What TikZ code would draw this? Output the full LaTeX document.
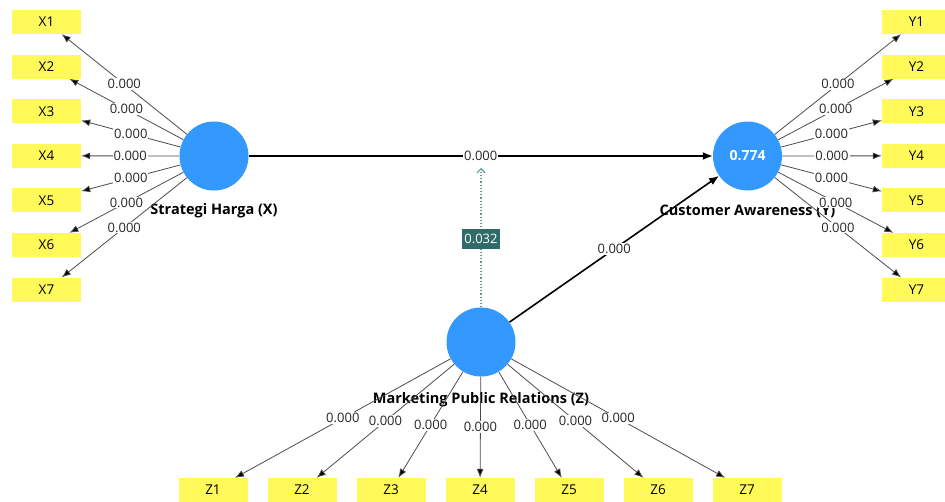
\documentclass[tikz,border=0pt]{standalone}
\usepackage{fontspec}
\setmainfont{Open Sans}
\usepackage{tikz}
\usetikzlibrary{positioning,arrows.meta}

\definecolor{indyellow}{RGB}{255,250,90}
\definecolor{lvblue}{RGB}{51,153,255}
\definecolor{modteal}{RGB}{47,107,104}
\definecolor{moddot}{RGB}{90,150,150}

\tikzset{
  ind/.style={rectangle, fill=indyellow, minimum width=69pt, minimum height=24pt, inner sep=0pt, font=\fontsize{13.5}{15}\selectfont},
  lv/.style={circle, fill=lvblue, minimum size=69pt, inner sep=0pt, text=white, font=\bfseries\fontsize{14}{16}\selectfont},
  lvname/.style={font=\bfseries\fontsize{14.5}{16}\selectfont},
  lbl/.style={fill=white, inner sep=1pt, text=black!85, font=\fontsize{13}{14}\selectfont},
  load/.style={-{Latex[length=9pt,width=7pt]}, draw=black!70, line width=0.8pt},
  struct/.style={-{Latex[length=10pt,width=8pt]}, draw=black, line width=1.6pt},
  modline/.style={-{Straight Barb[length=4pt,width=8pt]}, draw=moddot, line width=1.2pt, dotted},
  modlbl/.style={fill=modteal, text=white, inner sep=2pt, minimum height=20pt, font=\fontsize{13}{14}\selectfont}
}

\begin{document}
\begin{tikzpicture}[x=1pt,y=-1pt,node distance=44.6pt,on grid]
   \useasboundingbox (0,0) rectangle (945,501);

   \node[lv] (SH)  at (214,156)   {};
   \node[lv] (CA)  at (747.5,156) {0.774};
   \node[lv] (MPR) at (481,342)   {};

   \node[lvname] (SH_n)  [below=55pt of SH]  {Strategi Harga (X)};
   \node[lvname] (CA_n)  [below=55pt of CA]  {Customer Awareness (Y)};
   \node[lvname] (MPR_n) [below=58pt of MPR] {Marketing Public Relations (Z)};

   \node[ind] (X1) at (46.5,22) {X1};
   \node[ind] (X2) [below=of X1] {X2};
   \node[ind] (X3) [below=of X2] {X3};
   \node[ind] (X4) [below=of X3] {X4};
   \node[ind] (X5) [below=of X4] {X5};
   \node[ind] (X6) [below=of X5] {X6};
   \node[ind] (X7) [below=of X6] {X7};

   \node[ind] (Y1) at (916.5,22) {Y1};
   \node[ind] (Y2) [below=of Y1] {Y2};
   \node[ind] (Y3) [below=of Y2] {Y3};
   \node[ind] (Y4) [below=of Y3] {Y4};
   \node[ind] (Y5) [below=of Y4] {Y5};
   \node[ind] (Y6) [below=of Y5] {Y6};
   \node[ind] (Y7) [below=of Y6] {Y7};

   \node[ind] (Z1) at (213,490)    {Z1};
   \node[ind] (Z2) [right=89pt of Z1] {Z2};
   \node[ind] (Z3) [right=89pt of Z2] {Z3};
   \node[ind] (Z4) [right=89pt of Z3] {Z4};
   \node[ind] (Z5) [right=89pt of Z4] {Z5};
   \node[ind] (Z6) [right=89pt of Z5] {Z6};
   \node[ind] (Z7) [right=89pt of Z6] {Z7};

   \coordinate (mod) at (481,168);

    \path[load]
    (SH) edge node[lbl] {0.000} (X1)
    (SH) edge node[lbl] {0.000} (X2)
    (SH) edge node[lbl] {0.000} (X3)
    (SH) edge node[lbl] {0.000} (X4)
    (SH) edge node[lbl] {0.000} (X5)
    (SH) edge node[lbl] {0.000} (X6)
    (SH) edge node[lbl] {0.000} (X7)

    (CA) edge node[lbl] {0.000} (Y1)
    (CA) edge node[lbl] {0.000} (Y2)
    (CA) edge node[lbl] {0.000} (Y3)
    (CA) edge node[lbl] {0.000} (Y4)
    (CA) edge node[lbl] {0.000} (Y5)
    (CA) edge node[lbl] {0.000} (Y6)
    (CA) edge node[lbl] {0.000} (Y7)

    (MPR) edge node[lbl] {0.000} (Z1)
    (MPR) edge node[lbl] {0.000} (Z2)
    (MPR) edge node[lbl] {0.000} (Z3)
    (MPR) edge node[lbl] {0.000} (Z4)
    (MPR) edge node[lbl] {0.000} (Z5)
    (MPR) edge node[lbl] {0.000} (Z6)
    (MPR) edge node[lbl] {0.000} (Z7);

    \path[struct]
    (SH)  edge node[lbl] {0.000} (CA)
    (MPR) edge node[lbl] {0.000} (CA);

    \draw[modline] (MPR) -- (mod) node[modlbl, pos=0.49] {0.032};
\end{tikzpicture}
\end{document}
